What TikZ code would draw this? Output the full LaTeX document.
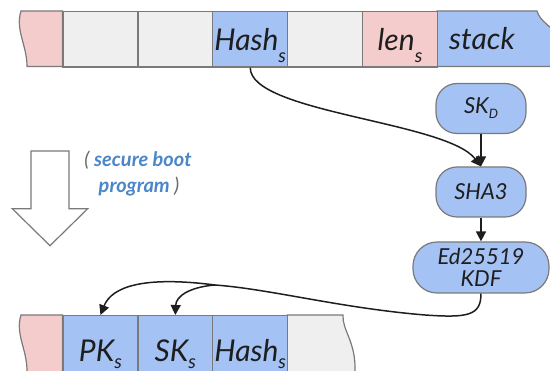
\documentclass[tikz,border=0pt]{standalone}
\usepackage{fontspec}
\setmainfont{Lato}
\newfontfamily\latoc{Lato}
\usetikzlibrary{arrows.meta}
\definecolor{cblue}{HTML}{A4C2F4}
\definecolor{cpink}{HTML}{F4CCCC}
\definecolor{cgrey}{HTML}{EFEFEF}
\definecolor{cedge}{HTML}{7A7A7A}
\definecolor{clabel}{HTML}{4A86C8}
\definecolor{cparen}{HTML}{6A6A6A}
\definecolor{ctext}{HTML}{1E1E1E}
\newcommand\lowsub[1]{\raisebox{-12pt}{\fontsize{19}{19}\selectfont #1}}
\newcommand\lowsubb[1]{\raisebox{-7pt}{\fontsize{19}{19}\selectfont #1}}
\newcommand\pillsub[1]{\raisebox{-5pt}{\fontsize{13}{13}\selectfont #1}}
\begin{document}
\begin{tikzpicture}[x=1pt,y=-1pt,
  cellbase/.style={draw=cedge, line width=1.2pt, minimum width=74.9pt, inner sep=0pt,
    anchor=north west, font=\latoc\itshape\fontsize{30}{32}\selectfont, text=ctext},
  topcell/.style={cellbase, text height=39pt, text depth=16.5pt},
  botcell/.style={cellbase, text height=46pt, text depth=24pt},
  endpiece/.style={draw=cedge, line width=1.2pt},
  pill/.style={draw=cedge, fill=cblue, line width=1.2pt, rounded corners=21pt,
    minimum width=90pt, minimum height=50pt, inner sep=2pt, text=ctext,
    font=\latoc\itshape\fontsize{22}{22.5}\selectfont, align=center},
  conn/.style={line width=1.5pt, draw=ctext, -{Triangle[width=10pt,length=10pt]}},
  hollow/.style={draw=cedge, line width=1.2pt},
  lbl/.style={anchor=base, font=\latoc\itshape\bfseries\fontsize{20}{22}\selectfont, text=clabel, inner sep=0pt}
]
\useasboundingbox (0,0) rectangle (550,371);
\clip (0,0) rectangle (550,371);

% ---- top strip ----
\path[endpiece, fill=cpink] (21,11) -- (62.4,11) -- (62.4,66.5) -- (27,66.5)
  .. controls (27,45) and (15,30) .. (21,11) -- cycle;
\path[endpiece, fill=cblue] (436.9,11) -- (537,11) .. controls (540,22) and (552,26) .. (562,40)
  -- (562,66.5) -- (436.9,66.5) -- cycle;
\node[topcell, fill=cgrey] (t1) at (62.4,11) {};
\node[topcell, fill=cgrey] (t2) at (137.3,11) {};
\node[topcell, fill=cblue] (hash) at (212.2,11) {Hash\lowsub{s}};
\node[topcell, fill=cgrey] (t4) at (287.1,11) {};
\node[topcell, fill=cpink] (len) at (362,11) {len\lowsub{s}};
\node[anchor=base, inner sep=0pt, font=\latoc\itshape\fontsize{30}{32}\selectfont, text=ctext] (stack) at (482,50) {stack};

% ---- bottom strip ----
\path[endpiece, fill=cpink] (21,315) -- (62.4,315) -- (62.4,385) -- (28,385) -- (27,371)
  .. controls (27,349) and (15,334) .. (21,315) -- cycle;
\path[endpiece, fill=cgrey] (287.1,315) -- (343,315) .. controls (342,330) and (356,342) .. (355,371)
  -- (356,385) -- (287.1,385) -- cycle;
\node[botcell, fill=cblue] (pk) at (62.4,315) {PK\lowsubb{s}};
\node[botcell, fill=cblue] (sk) at (137.3,315) {SK\lowsubb{s}};
\node[botcell, fill=cblue] (hash2) at (212.2,315) {Hash\lowsubb{s}};

% ---- pills ----
\node[pill] (skd) at (481,108.5) {SK\pillsub{D}};
\node[pill] (sha) at (481,192) {SHA3};
\node[pill, minimum width=136pt, minimum height=51pt, rounded corners=24pt] (kdf) at (481,267.5) {Ed25519\\KDF};

% ---- hollow arrow and label ----
\path[hollow] (31,151) -- (69,151) -- (69,208.7) -- (87.7,208.7) -- (50,245.7)
  -- (12.3,208.7) -- (31,208.7) -- cycle;
\node[lbl] (lineA) at (138,167) {{\mdseries\color{cparen}(} secure boot};
\node[lbl] (lineB) at (139,193) {program {\mdseries\color{cparen})}};

% ---- connectors ----
\coordinate (j) at (215,285);
\draw[conn] (hash.south) .. controls +(0,45) and +(-35,-45) .. (sha.north);
\draw[conn] (skd) -- (sha);
\draw[conn] (sha) -- (kdf);
\draw[conn] (kdf.south) .. controls +(0,22) and (468,318) .. (425,315)
  .. controls (340,308) and (270,289) .. (j)
  .. controls (145,276) and (112,286) .. (pk.north);
\draw[conn] (j) .. controls (190,287) and (176,296) .. (sk.north);
\end{tikzpicture}
\end{document}
